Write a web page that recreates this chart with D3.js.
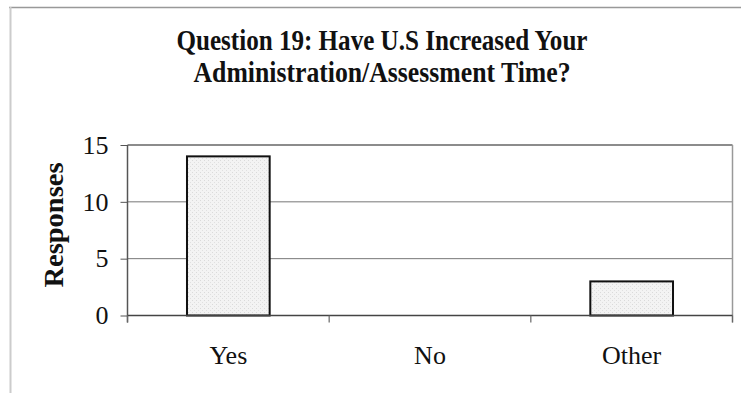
<!DOCTYPE html>
<html>
<head>
<meta charset="utf-8">
<script src="https://cdn.jsdelivr.net/npm/d3@7/dist/d3.min.js"></script>
<style>
  html, body { margin: 0; padding: 0; background: #fff; }
  svg { display: block; }
</style>
</head>
<body>
<svg id="chart" width="741" height="393"></svg>
<script>
// Survey responses for question 19
const categories = ["Yes", "No", "Other"];
const responses = [14, 0, 3];
const yTicks = [0, 5, 10, 15];
const titleLines = ["Question 19: Have U.S Increased Your", "Administration/Assessment Time?"];
const yLabel = "Responses";

const serif = "'Liberation Serif', 'Times New Roman', serif";
const svg = d3.select("#chart");
const W = 741, H = 393;
const plot = { left: 127.5, right: 732.5, top: 145, bottom: 315.5 };

// Outer frame (top and left edges)
svg.append("line").attr("x1", 9).attr("x2", W).attr("y1", 7.5).attr("y2", 7.5)
  .attr("stroke", "#999").attr("stroke-width", 1.5);
svg.append("line").attr("x1", 10.5).attr("x2", 10.5).attr("y1", 7).attr("y2", H)
  .attr("stroke", "#ccc").attr("stroke-width", 2);

const x = d3.scaleBand().domain(categories).range([plot.left, plot.right])
  .paddingInner(0.59).paddingOuter(0.295);
const y = d3.scaleLinear().domain([0, 15]).range([plot.bottom, plot.top]);

// Horizontal gridlines
svg.append("g").selectAll("line").data(yTicks.filter(t => t > 0 && t < 15)).join("line")
  .attr("x1", plot.left).attr("x2", plot.right)
  .attr("y1", d => y(d)).attr("y2", d => y(d))
  .attr("stroke", "#777").attr("stroke-width", 1);

// Plot border: top and right edges
svg.append("line").attr("x1", plot.left).attr("x2", plot.right)
  .attr("y1", y(15)).attr("y2", y(15)).attr("stroke", "#666").attr("stroke-width", 1.5);
svg.append("line").attr("x1", plot.right).attr("x2", plot.right)
  .attr("y1", y(15)).attr("y2", plot.bottom + 7).attr("stroke", "#999").attr("stroke-width", 1.5);

// Stipple pattern for the bar fill
const defs = svg.append("defs");
const pat = defs.append("pattern").attr("id", "stipple").attr("patternUnits", "userSpaceOnUse")
  .attr("width", 4).attr("height", 4);
pat.append("rect").attr("width", 4).attr("height", 4).attr("fill", "#f3f3f3");
pat.append("rect").attr("x", 0).attr("y", 0).attr("width", 1).attr("height", 1).attr("fill", "#dadada");
pat.append("rect").attr("x", 2).attr("y", 2).attr("width", 1).attr("height", 1).attr("fill", "#e0e0e0");

// Bars
svg.append("g").selectAll("rect").data(categories.map((c, i) => ({ c, v: responses[i] })).filter(d => d.v > 0))
  .join("rect")
  .attr("x", d => x(d.c)).attr("width", x.bandwidth())
  .attr("y", d => y(d.v)).attr("height", d => y(0) - y(d.v))
  .attr("fill", "url(#stipple)").attr("stroke", "#111").attr("stroke-width", 2);

// Y axis
const yAxis = svg.append("g").attr("transform", `translate(${plot.left},0)`)
  .call(d3.axisLeft(y).tickValues(yTicks).tickSize(7).tickPadding(12));
yAxis.select(".domain").attr("stroke", "#555").attr("stroke-width", 1.5)
  .attr("d", `M0,${plot.top}V${plot.bottom + 7}`);
yAxis.selectAll(".tick line").attr("stroke", "#555");
yAxis.selectAll("text").attr("font-family", serif)
  .attr("font-size", 26).attr("fill", "#111");

// X axis (zero line with separators between categories)
const xAxis = svg.append("g").attr("transform", `translate(0,${plot.bottom})`)
  .call(d3.axisBottom(x).tickSize(0).tickPadding(0));
xAxis.select(".domain").attr("stroke", "#444").attr("stroke-width", 1.5)
  .attr("d", `M${plot.left},0H${plot.right}`);
xAxis.selectAll("text").attr("font-family", serif)
  .attr("font-size", 26).attr("fill", "#111").attr("dy", null).attr("y", 48);
svg.append("g").selectAll("line").data(d3.range(categories.length + 1)).join("line")
  .attr("x1", i => plot.left + i * (plot.right - plot.left) / categories.length)
  .attr("x2", i => plot.left + i * (plot.right - plot.left) / categories.length)
  .attr("y1", plot.bottom).attr("y2", plot.bottom + 7)
  .attr("stroke", "#666").attr("stroke-width", 1.2);

// Title
const title = svg.append("g").attr("font-family", serif)
  .attr("font-weight", "bold").attr("font-size", 30).attr("fill", "#111").attr("text-anchor", "middle");
const titleWidths = [411, 377];
titleLines.forEach((t, i) => {
  title.append("text").attr("x", 382).attr("y", 50 + i * 32)
    .attr("textLength", titleWidths[i]).attr("lengthAdjust", "spacingAndGlyphs").text(t);
});

// Y axis label
svg.append("text").attr("transform", "translate(63,225) rotate(-90)")
  .attr("text-anchor", "middle").attr("font-family", serif)
  .attr("font-weight", "bold").attr("font-size", 27).attr("fill", "#111")
  .attr("textLength", 125).attr("lengthAdjust", "spacingAndGlyphs")
  .text(yLabel);
</script>
</body>
</html>
